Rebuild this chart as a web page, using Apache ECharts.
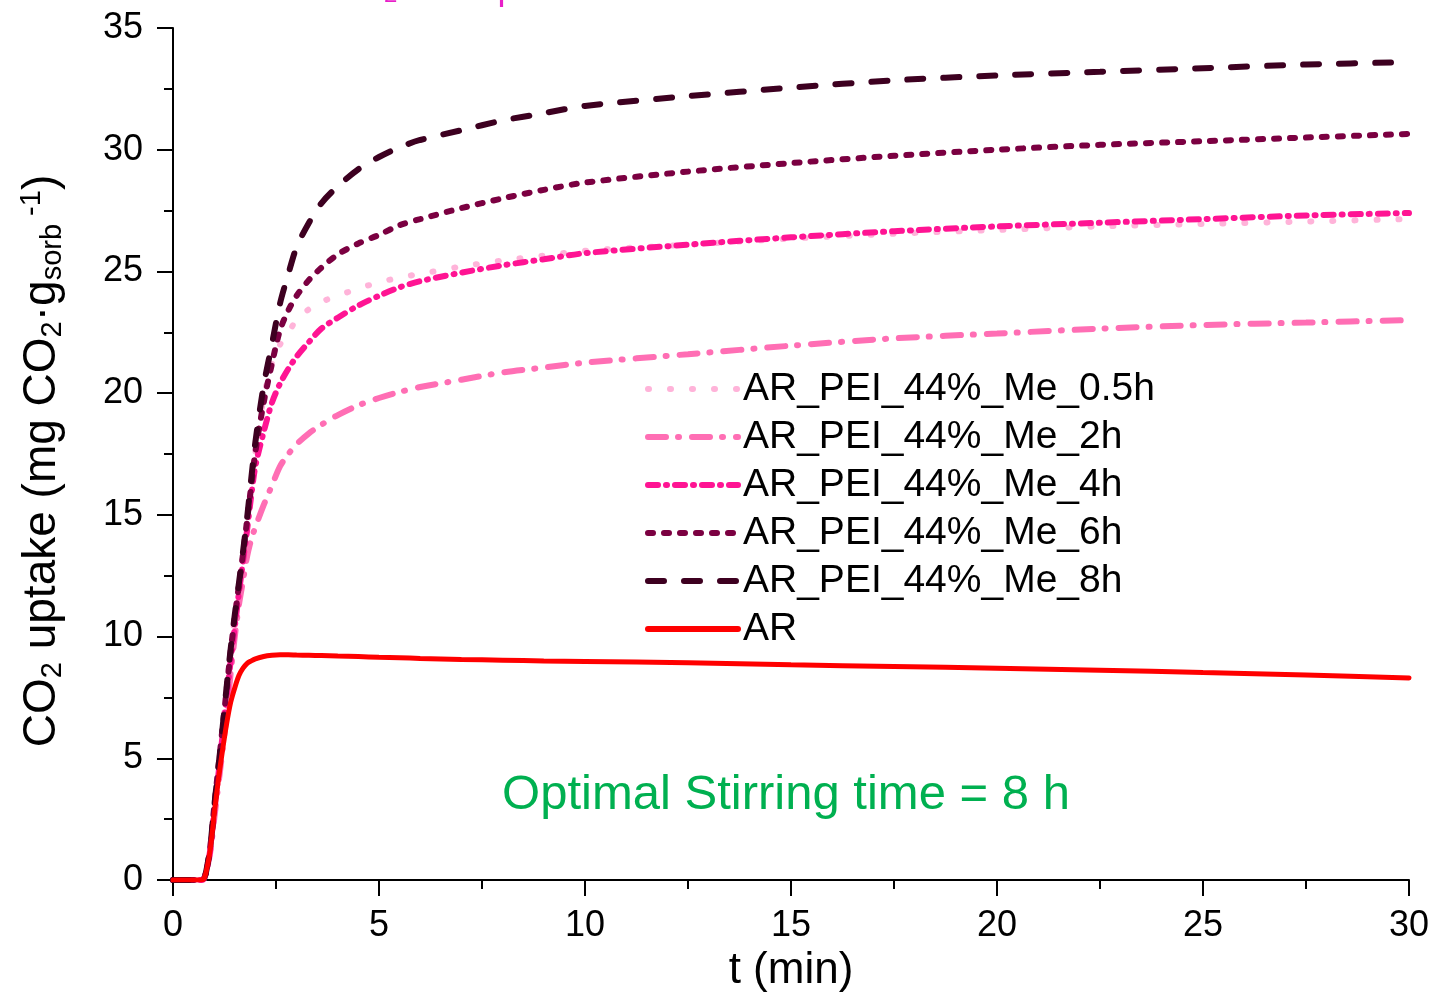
<!DOCTYPE html>
<html>
<head>
<meta charset="utf-8">
<title>CO2 uptake</title>
<script src="https://cdn.jsdelivr.net/npm/echarts@6/dist/echarts.min.js"></script>
<style>
  html, body { margin: 0; padding: 0; background: #fff; }
  #main { width: 1441px; height: 996px; }
</style>
</head>
<body>
<div id="main"></div>
<script>
// time (min), shared by every curve
var times = [0, 0.5, 0.7, 0.75, 0.8, 0.9, 1.0, 1.1, 1.2, 1.3, 1.4, 1.5, 1.6, 1.7, 1.8, 1.9, 2.0, 2.2, 2.4, 2.6,
  2.8, 3.0, 3.3, 3.6, 4.0, 4.5, 5.0, 5.5, 6.0, 7, 8, 9, 10, 12.5, 15, 17.5, 20, 22.5, 25, 27.5, 30];

// CO2 uptake (mg CO2 / g sorb)
var me05h = [0, 0, 0, 0.05, 0.3, 1.3, 3.0, 4.6, 6.2, 7.8, 9.4, 10.8, 12.1, 13.4, 14.8, 16.2, 17.6, 19.8, 21.2, 22.0,
  22.5, 23.0, 23.45, 23.75, 24.0, 24.3, 24.55, 24.75, 24.9, 25.2, 25.45, 25.65, 25.85, 26.1, 26.35, 26.55, 26.7, 26.85, 26.95, 27.05, 27.15];
var me2h = [0, 0, 0, 0.05, 0.3, 1.1, 2.5, 3.9, 5.3, 6.8, 8.5, 10.0, 11.3, 12.3, 13.3, 14.0, 14.5, 15.4, 16.2, 17.0,
  17.5, 17.9, 18.35, 18.7, 19.1, 19.5, 19.8, 20.05, 20.25, 20.55, 20.85, 21.05, 21.25, 21.6, 21.95, 22.25, 22.45, 22.65, 22.8, 22.9, 23.0];
var me4h = [0, 0, 0, 0.05, 0.3, 1.2, 2.8, 4.3, 5.9, 7.5, 9.0, 10.4, 11.8, 13.1, 14.4, 15.8, 17.0, 18.4, 19.6, 20.4,
  21.0, 21.5, 22.1, 22.65, 23.1, 23.6, 24.0, 24.35, 24.6, 24.95, 25.25, 25.5, 25.75, 26.1, 26.4, 26.65, 26.85, 27.0, 27.15, 27.3, 27.4];
var me6h = [0, 0, 0, 0.05, 0.3, 1.3, 3.0, 4.6, 6.2, 7.8, 9.4, 10.8, 12.1, 13.4, 14.8, 16.2, 17.6, 19.6, 21.2, 22.6,
  23.4, 24.0, 24.65, 25.15, 25.7, 26.15, 26.5, 26.9, 27.15, 27.6, 28.0, 28.35, 28.65, 29.1, 29.45, 29.75, 30.0, 30.2, 30.35, 30.5, 30.65];
var me8h = [0, 0, 0, 0.05, 0.3, 1.3, 3.0, 4.6, 6.2, 7.9, 9.5, 10.9, 12.2, 13.5, 14.9, 16.5, 18.0, 20.3, 22.0, 23.7,
  24.9, 26.0, 27.0, 27.8, 28.5, 29.2, 29.7, 30.1, 30.4, 30.8, 31.2, 31.5, 31.8, 32.2, 32.55, 32.85, 33.05, 33.2, 33.35, 33.5, 33.6];
var ar = [0, 0, 0, 0.05, 0.3, 1.2, 2.7, 4.1, 5.3, 6.4, 7.3, 7.9, 8.4, 8.7, 8.9, 9.0, 9.08, 9.18, 9.23, 9.25,
  9.25, 9.24, 9.23, 9.22, 9.2, 9.18, 9.15, 9.13, 9.1, 9.06, 9.03, 9.0, 8.98, 8.92, 8.84, 8.77, 8.7, 8.62, 8.52, 8.42, 8.3];

var seriesNames = ['AR_PEI_44%_Me_0.5h', 'AR_PEI_44%_Me_2h', 'AR_PEI_44%_Me_4h', 'AR_PEI_44%_Me_6h', 'AR_PEI_44%_Me_8h', 'AR'];
var xTicks = [0, 5, 10, 15, 20, 25, 30];
var yTicks = [0, 5, 10, 15, 20, 25, 30, 35];

(function () {
    var myChart = echarts.init(document.getElementById('main'));
    var font = 'Liberation Sans, Arial, sans-serif';

    // pair the shared time axis with one curve
    function pairs(values) {
        return times.map(function (t, i) { return [t, values[i]]; });
    }

    // one line series, no symbols
    function curve(name, values, color, dash, width) {
        return {
            name: name,
            type: 'line',
            data: pairs(values),
            smooth: 0.3,
            symbol: 'none',
            showSymbol: false,
            lineStyle: { color: color, width: width, type: dash, cap: 'round' },
            itemStyle: { color: color }
        };
    }

    var option = {
        animation: false,
        backgroundColor: '#fff',
        textStyle: { fontFamily: font },
        // fixed plot box, labels may sit outside it
        grid: { left: 173, right: 32, top: 28, bottom: 116, outerBoundsMode: 'none', containLabel: false },
        legend: {
            data: seriesNames,
            orient: 'vertical',
            left: 640,
            top: 364,
            itemWidth: 90,
            itemHeight: 16,
            itemGap: 8,
            // line only, hide the marker dot
            itemStyle: { opacity: 0 },
            lineStyle: { width: 6 },
            textStyle: { fontFamily: font, fontSize: 39, color: '#000', lineHeight: 40, padding: [0, 0, 0, 0] }
        },
        xAxis: {
            type: 'value',
            min: xTicks[0],
            max: xTicks[xTicks.length - 1],
            interval: 5,
            name: 't (min)',
            nameLocation: 'middle',
            nameGap: 68,
            nameTextStyle: { fontFamily: font, fontSize: 44, color: '#000' },
            axisLine: { show: true, onZero: false, lineStyle: { color: '#000', width: 2 } },
            axisTick: { show: true, inside: false, length: 16, lineStyle: { color: '#000', width: 2 } },
            minorTick: { show: true, splitNumber: 2, length: 9, lineStyle: { color: '#000', width: 2 } },
            axisLabel: { fontFamily: font, fontSize: 36, color: '#000', margin: 28 },
            splitLine: { show: false }
        },
        yAxis: {
            type: 'value',
            min: yTicks[0],
            max: yTicks[yTicks.length - 1],
            interval: 5,
            name: 'CO{sub|2} uptake (mg CO{sub|2}·g{sub|sorb}{sup| -1})',
            nameLocation: 'middle',
            nameRotate: 90,
            nameGap: 106,
            nameTextStyle: {
                fontFamily: font, fontSize: 46, color: '#000', lineHeight: 50,
                padding: [0, 14, 0, 0],
                rich: {
                    sub: { fontFamily: font, fontSize: 29, color: '#000', lineHeight: 22, verticalAlign: 'bottom' },
                    sup: { fontFamily: font, fontSize: 29, color: '#000', lineHeight: 22, verticalAlign: 'top' }
                }
            },
            axisLine: { show: true, onZero: false, lineStyle: { color: '#000', width: 2 } },
            axisTick: { show: true, inside: false, length: 16, lineStyle: { color: '#000', width: 2 } },
            minorTick: { show: true, splitNumber: 2, length: 9, lineStyle: { color: '#000', width: 2 } },
            axisLabel: { fontFamily: font, fontSize: 36, color: '#000', margin: 30 },
            splitLine: { show: false }
        },
        graphic: [
            {
                // stirring time note
                type: 'text',
                x: 786,
                y: 795,
                style: {
                    text: 'Optimal Stirring time = 8 h',
                    fill: '#00b050',
                    font: '49px Liberation Sans, Arial, sans-serif',
                    align: 'center',
                    verticalAlign: 'middle'
                }
            },
            {
                // title cut off at the top edge
                type: 'text',
                x: 330,
                y: 7,
                style: {
                    text: 'CO{s|2} adsorption',
                    fill: '#e81fc8',
                    font: '36px Liberation Sans, Arial, sans-serif',
                    lineHeight: 36,
                    align: 'left',
                    verticalAlign: 'bottom',
                    rich: {
                        s: { fontSize: 24, fill: '#e81fc8', verticalAlign: 'bottom', lineHeight: 12 }
                    }
                }
            }
        ],
        series: [
            curve(seriesNames[0], me05h, '#ffb3d9', [1, 21], 6),
            curve(seriesNames[1], me2h, '#ff6eb4', [18, 12, 1, 13], 6),
            curve(seriesNames[2], me4h, '#ff1493', [10, 8, 1, 8], 6),
            curve(seriesNames[3], me6h, '#7b0041', [5, 11], 6),
            curve(seriesNames[4], me8h, '#3d0020', [16, 20], 6),
            curve(seriesNames[5], ar, '#ff0000', 'solid', 5)
        ]
    };

    myChart.setOption(option);
})();
</script>
</body>
</html>
